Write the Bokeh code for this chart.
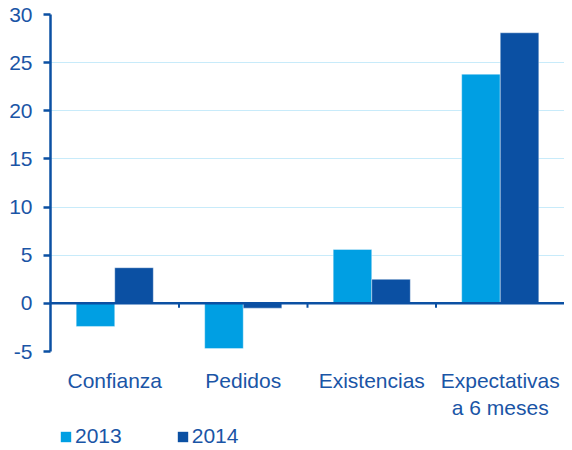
from bokeh.plotting import figure
from bokeh.layouts import column
from bokeh.models import ColumnDataSource, FactorRange, Range1d, Span, Legend, LegendItem, FixedTicker
from bokeh.transform import dodge
from bokeh.embed import file_html
from bokeh.resources import INLINE

categories = ["Confianza", "Pedidos", "Existencias", "Expectativas\na 6 meses"]
values_2013 = [-2.4, -4.7, 5.6, 23.8]
values_2014 = [3.7, -0.5, 2.5, 28.1]
series_names = ["2013", "2014"]
y_ticks = [-5, 0, 5, 10, 15, 20, 25, 30]

C13 = "#009fe3"
C14 = "#0b50a3"
TXT = "#1a55a6"
FONT = "Liberation Sans"

src = ColumnDataSource(dict(cat=categories, v13=values_2013, v14=values_2014))
sep = ColumnDataSource(dict(cat=categories[:-1], y0=[0] * 3, y1=[-0.45] * 3))

p = figure(x_range=FactorRange(*categories, range_padding=0, factor_padding=0),
           y_range=Range1d(-5, 30),
           width=564, height=422, output_backend="svg", toolbar_location=None,
           min_border_left=50, min_border_right=0, min_border_top=14, min_border_bottom=68)
p.outline_line_color = None

r13 = p.vbar(x=dodge("cat", -0.15, range=p.x_range), top="v13", width=0.3, source=src,
             fill_color=C13, line_color="white", line_width=1, line_alpha=0.4)
r14 = p.vbar(x=dodge("cat", 0.15, range=p.x_range), top="v14", width=0.3, source=src,
             fill_color=C14, line_color="white", line_width=1, line_alpha=0.4)

p.add_layout(Span(location=0, dimension="width", line_color=C14, line_width=2.5))
p.segment(x0=dodge("cat", 0.5, range=p.x_range), x1=dodge("cat", 0.5, range=p.x_range),
          y0="y0", y1="y1", source=sep, line_color=C14, line_width=2)

p.xgrid.grid_line_color = None
p.ygrid.grid_line_color = "#c8ebfa"
p.ygrid.grid_line_width = 1.2
p.yaxis.ticker = FixedTicker(ticks=y_ticks)
p.yaxis.major_label_overrides = {t: str(t) for t in y_ticks}
p.yaxis.axis_line_color = C14
p.yaxis.axis_line_width = 2.5
p.yaxis.major_tick_line_color = C14
p.yaxis.major_tick_line_width = 2.5
p.yaxis.major_tick_out = 7
p.yaxis.major_tick_in = 0
p.yaxis.minor_tick_line_color = None
p.yaxis.major_label_text_color = TXT
p.yaxis.major_label_text_font = FONT
p.yaxis.major_label_text_font_size = "21px"
p.yaxis.major_label_standoff = 11

p.xaxis.axis_line_color = None
p.xaxis.major_tick_line_color = None
p.xaxis.major_label_text_color = TXT
p.xaxis.major_label_text_font = FONT
p.xaxis.major_label_text_font_size = "21px"
p.xaxis.major_label_standoff = 11

# legend strip below the chart
lg = figure(width=564, height=28, x_range=Range1d(0, 1), y_range=Range1d(0, 1),
            output_backend="svg", toolbar_location=None,
            x_axis_location=None, y_axis_location=None,
            min_border_left=0, min_border_right=0, min_border_top=0, min_border_bottom=0)
lg.grid.visible = False
lg.outline_line_color = None
leg_src = ColumnDataSource(dict(x=[5], top=[5], bottom=[4]))
d13 = lg.vbar(x="x", top="top", bottom="bottom", width=0.1, source=leg_src,
              fill_color=C13, line_color=None)
d14 = lg.vbar(x="x", top="top", bottom="bottom", width=0.1, source=leg_src,
              fill_color=C14, line_color=None)
legend = Legend(items=[LegendItem(label=series_names[0], renderers=[d13]),
                       LegendItem(label=series_names[1], renderers=[d14])],
                orientation="horizontal", location=(9, 2),
                glyph_width=13, glyph_height=13, label_standoff=3, spacing=54,
                label_text_font=FONT, label_text_font_size="21px", label_text_color=TXT,
                border_line_color=None, background_fill_alpha=0, padding=0, margin=0)
lg.add_layout(legend)

layout = column(p, lg, spacing=0)
open("out.html", "w").write(file_html(layout, INLINE))
